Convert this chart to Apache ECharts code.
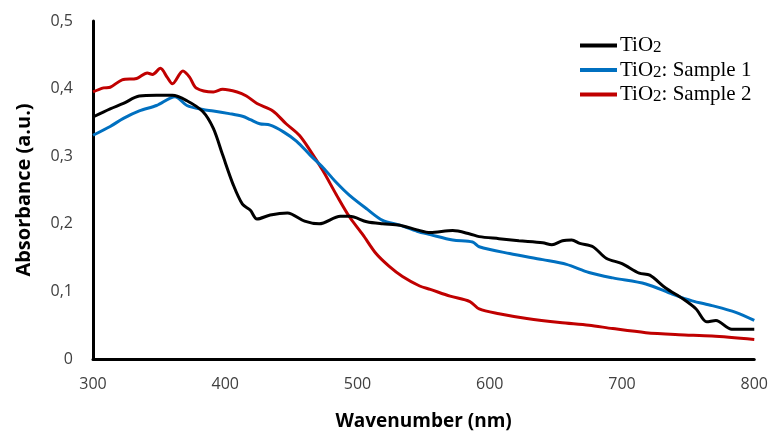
<!DOCTYPE html>
<html>
<head>
<meta charset="utf-8">
<script src="https://cdn.jsdelivr.net/npm/echarts@6/dist/echarts.min.js"></script>
<style>html,body{margin:0;padding:0;background:#fff}#c{width:771px;height:436px}</style>
</head>
<body>
<div id="c"></div>
<script>
const seriesNames = ['TiO2', 'TiO2: Sample 1', 'TiO2: Sample 2'];
const xTicks = [300, 400, 500, 600, 700, 800];
const yTicks = [0, 0.1, 0.2, 0.3, 0.4, 0.5];

const tio2X = [300,313,323,335,348,360,371,383,391,398,406,413,419,424,434,447,460,471,487,494,507,519,532,545,555,572,585,592,607,622,640,647,655,662,668,678,688,700,713,721,733,746,756,764,771,783,800];
const tio2Y = [0.358,0.370,0.378,0.389,0.390,0.390,0.382,0.366,0.341,0.302,0.258,0.229,0.220,0.207,0.213,0.216,0.204,0.200,0.211,0.211,0.203,0.200,0.198,0.191,0.187,0.190,0.185,0.181,0.178,0.175,0.172,0.169,0.175,0.176,0.171,0.166,0.149,0.141,0.127,0.124,0.105,0.089,0.074,0.055,0.057,0.044,0.044];

const s1X = [300,313,323,335,348,362,371,383,391,403,413,419,426,434,444,454,464,474,484,494,507,519,532,545,555,572,587,592,615,640,658,675,693,718,738,753,768,786,800];
const s1Y = [0.331,0.344,0.356,0.367,0.375,0.388,0.375,0.369,0.367,0.363,0.359,0.354,0.348,0.346,0.336,0.322,0.302,0.283,0.261,0.242,0.222,0.205,0.198,0.189,0.184,0.176,0.173,0.166,0.156,0.147,0.140,0.128,0.120,0.111,0.096,0.086,0.079,0.069,0.057];

const s2X = [300,308,313,322,333,341,345,351,356,360,368,373,378,391,398,409,416,424,436,446,456,464,474,484,494,504,514,524,534,547,555,570,585,592,607,628,653,675,693,718,743,768,800];
const s2Y = [0.395,0.401,0.402,0.413,0.415,0.423,0.421,0.430,0.417,0.407,0.426,0.417,0.401,0.395,0.399,0.395,0.389,0.378,0.367,0.348,0.331,0.309,0.278,0.243,0.210,0.184,0.156,0.137,0.122,0.108,0.103,0.093,0.085,0.074,0.067,0.060,0.054,0.050,0.045,0.039,0.036,0.034,0.029];

const pairs = (xs, ys) => xs.map((x, i) => [x, ys[i]]);
const colors = ['#000000', '#0070C0', '#C00000'];
const datasets = [pairs(tio2X, tio2Y), pairs(s1X, s1Y), pairs(s2X, s2Y)];

const chart = echarts.init(document.getElementById('c'), null, {renderer: 'canvas'});
const labelFont = 'Open Sans';
chart.setOption({
  backgroundColor: '#ffffff',
  animation: false,
  grid: {left: 93, right: 16, top: 21, bottom: 72, containLabel: false},
  legend: {
    orient: 'vertical', left: 575, top: 30,
    icon: 'rect', itemWidth: 37, itemHeight: 4, itemGap: 3,
    data: seriesNames,
    formatter: function (n) {
      return n.replace(/^TiO2/, '{a|TiO}{s|2}{a|') + '}';
    },
    textStyle: {
      fontFamily: 'Liberation Serif', fontSize: 21, color: '#000', padding: [0, 0, 0, -2],
      rich: {
        a: {fontFamily: 'Liberation Serif', fontSize: 21, color: '#000', height: 22},
        s: {fontFamily: 'Liberation Serif', fontSize: 17, color: '#000', height: 22, padding: [5, 0, 0, 0]}
      }
    }
  },
  xAxis: {
    type: 'value', min: 300, max: 800, interval: 100,
    name: 'Wavenumber (nm)', nameLocation: 'middle', nameGap: 53,
    nameTextStyle: {fontFamily: labelFont, fontSize: 19, fontWeight: 'bold', color: '#000'},
    axisLine: {show: true, lineStyle: {color: '#000', width: 3}},
    axisTick: {show: false},
    splitLine: {show: false},
    axisLabel: {fontFamily: labelFont, fontSize: 16, color: '#404040', margin: 17,
      formatter: v => xTicks.includes(v) ? String(v) : ''}
  },
  yAxis: {
    type: 'value', min: 0, max: 0.5, interval: 0.1,
    name: 'Absorbance (a.u.)', nameLocation: 'middle', nameGap: 59,
    nameTextStyle: {fontFamily: labelFont, fontSize: 20, fontWeight: 'bold', color: '#000'},
    axisLine: {show: true, onZero: false, lineStyle: {color: '#000', width: 3}},
    axisTick: {show: false},
    splitLine: {show: false},
    axisLabel: {fontFamily: labelFont, fontSize: 16, color: '#404040', margin: 20,
      formatter: v => {
        const t = yTicks.find(k => Math.abs(k - v) < 1e-9);
        return t === undefined ? '' : (t === 0 ? '0' : t.toFixed(1).replace('.', ','));
      }}
  },
  series: seriesNames.map((n, i) => ({
    name: n, type: 'line', data: datasets[i], showSymbol: false, smooth: 0.3,
    lineStyle: {color: colors[i], width: 3}, itemStyle: {color: colors[i]},
    z: i === 0 ? 4 : (i === 1 ? 3 : 2)
  }))
});
</script>
</body>
</html>
